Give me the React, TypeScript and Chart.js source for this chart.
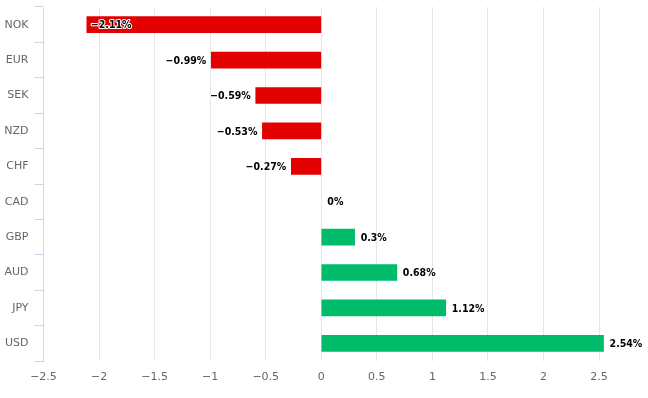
import React, { useEffect, useRef } from "react";
import { Chart, registerables } from "chart.js";

Chart.register(...registerables);

const categories = ["NOK", "EUR", "SEK", "NZD", "CHF", "CAD", "GBP", "AUD", "JPY", "USD"];
const values = [-2.11, -0.99, -0.59, -0.53, -0.27, 0, 0.3, 0.68, 1.12, 2.54];
const xTicks = [-2.5, -2, -1.5, -1, -0.5, 0, 0.5, 1, 1.5, 2, 2.5];

const RED = "#e20000";
const GREEN = "#00bb6a";
const FONT = "'DejaVu Sans', sans-serif";
const LABEL_FONT = "bold 10.5px 'DejaVu Sans Condensed', 'DejaVu Sans', sans-serif";

const fmt = (v: number) => (v < 0 ? "\u2212" + Math.abs(v) : String(v));

const labelPlugin = {
  id: "valueLabels",
  afterDatasetsDraw(chart: any) {
    const ctx = chart.ctx;
    const meta = chart.getDatasetMeta(0);
    ctx.save();
    ctx.font = LABEL_FONT;
    ctx.textBaseline = "middle";
    ctx.lineJoin = "round";
    meta.data.forEach((bar: any, i: number) => {
      const v = values[i];
      const text = fmt(v) + "%";
      const w = ctx.measureText(text).width;
      const end = bar.x;
      let x: number;
      let align: CanvasTextAlign;
      if (v < 0) {
        if (end - 5 - w < chart.chartArea.left) {
          x = end + 4;
          align = "left";
        } else {
          x = end - 5;
          align = "right";
        }
      } else {
        x = end + 6;
        align = "left";
      }
      ctx.textAlign = align;
      ctx.strokeStyle = "#ffffff";
      ctx.lineWidth = 2;
      ctx.strokeText(text, x, bar.y + 1);
      ctx.fillStyle = "#000000";
      ctx.fillText(text, x, bar.y + 1);
    });
    ctx.restore();
  },
};

export default function App() {
  const ref = useRef<HTMLCanvasElement>(null);
  useEffect(() => {
    if (!ref.current) return;
    const chart = new Chart(ref.current, {
      type: "bar",
      data: {
        labels: categories,
        datasets: [
          {
            data: values,
            backgroundColor: values.map((v) => (v < 0 ? RED : v > 0 ? GREEN : "rgba(0,0,0,0)")),
            borderWidth: 0,
            barThickness: 16,
          },
        ],
      },
      options: {
        indexAxis: "y",
        animation: false,
        responsive: false,
        maintainAspectRatio: false,
        layout: { padding: { top: 7, right: 10, left: 0, bottom: 0 } },
        plugins: { legend: { display: false }, tooltip: { enabled: false } },
        scales: {
          x: {
            type: "linear",
            min: -2.5,
            max: 2.85,
            afterBuildTicks: (scale: any) => {
              scale.ticks = xTicks.map((v) => ({ value: v }));
            },
            afterFit: (scale: any) => {
              scale.height = 37;
            },
            grid: { color: "#e6e6e6", drawTicks: false, lineWidth: 1 },
            border: { display: false },
            ticks: {
              color: "#666666",
              font: { family: FONT, size: 11 },
              padding: 10,
              callback: (v: any) => fmt(Number(v)),
            },
          },
          y: {
            type: "category",
            afterFit: (scale: any) => {
              scale.width = 43.5;
              scale.paddingTop = 0;
              scale.paddingBottom = 0;
            },
            grid: {
              drawOnChartArea: false,
              drawTicks: true,
              tickLength: 9,
              color: "#ccd6eb",
              offset: true,
            },
            border: { display: true, color: "#ccd6eb" },
            ticks: {
              color: "#666666",
              font: { family: FONT, size: 11 },
              padding: 6,
            },
          },
        },
      },
      plugins: [labelPlugin],
    } as any);
    return () => chart.destroy();
  }, []);
  return (
    <div style={{ position: "fixed", left: 0, top: 0, width: 648, height: 398, background: "#fff" }}>
      <canvas ref={ref} width={648} height={398} style={{ width: 648, height: 398 }} />
    </div>
  );
}
